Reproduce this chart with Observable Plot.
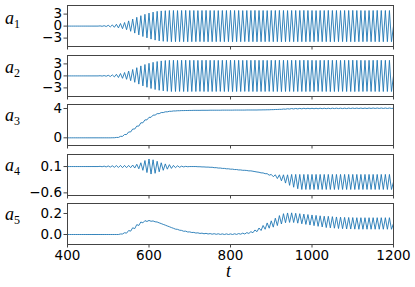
<!DOCTYPE html>
<html><head><meta charset="utf-8">
<script src="https://cdn.jsdelivr.net/npm/d3@7"></script>
<script src="https://cdn.jsdelivr.net/npm/@observablehq/plot@0.6"></script>
<style>
body{margin:0;background:#fff;}
#wrap{position:relative;width:415px;height:287px;overflow:hidden;}
#wrap svg{position:absolute;left:0;overflow:visible;}
.lab{position:absolute;font-family:"Liberation Serif",serif;font-style:italic;font-size:18px;line-height:18px;color:#000;white-space:nowrap;}
.lab sub{font-style:normal;font-size:12px;vertical-align:baseline;position:relative;top:4px;}
</style></head>
<body><div id="wrap"></div>
<script>
// time grid: one cycle every 10 time units from 400 (peak at t, trough at t+5)
const tStart = 400, tEnd = 1200, cycle = 10;
const xTicks = [400, 600, 800, 1000, 1200];
const seriesNames = ["a1", "a2", "a3", "a4", "a5"];

// a1: oscillation amplitude per cycle (centre 0)
const a1Amp = [
 0,0,0,0,0,0,0,0,0.05,0.1,
 0.2,0.3,0.45,0.65,0.9,1.3,1.75,2.2,2.6,2.95,
 3.25,3.5,3.7,3.8,3.85,3.9,3.9,3.88,3.9,3.92,
 3.9,3.9,3.88,3.9,3.92,3.9,3.9,3.88,3.9,3.9,
 3.92,3.9,3.9,3.88,3.9,3.9,3.92,3.9,3.9,3.88,
 3.9,3.9,3.92,3.9,3.88,3.9,3.9,3.9,3.92,3.9,
 3.9,3.88,3.9,3.9,3.92,3.9,3.9,3.88,3.9,3.9,
 3.92,3.9,3.9,3.88,3.9,3.9,3.92,3.9,3.9,3.9];
const a1Mid = new Array(80).fill(0);

// a2
const a2Amp = [
 0,0,0,0,0,0,0,0,0.04,0.08,
 0.15,0.25,0.4,0.6,0.85,1.2,1.6,2.05,2.5,2.85,
 3.15,3.4,3.6,3.75,3.85,3.9,3.9,3.88,3.9,3.92,
 3.9,3.9,3.88,3.9,3.92,3.9,3.9,3.88,3.9,3.9,
 3.92,3.9,3.9,3.88,3.9,3.9,3.92,3.9,3.9,3.88,
 3.9,3.9,3.92,3.9,3.88,3.9,3.9,3.9,3.92,3.9,
 3.9,3.88,3.9,3.9,3.92,3.9,3.9,3.88,3.9,3.9,
 3.92,3.9,3.9,3.88,3.9,3.9,3.92,3.9,3.9,3.9];
const a2Mid = new Array(80).fill(0);

// a3: smooth rise, tiny ripple late
const a3Mid = [
 0,0,0,0,0,0,0,0,0,0,
 0,0.01,0.05,0.2,0.45,0.8,1.2,1.6,2.05,2.45,
 2.8,3.1,3.3,3.45,3.55,3.62,3.67,3.7,3.72,3.73,
 3.74,3.75,3.75,3.76,3.76,3.77,3.77,3.77,3.78,3.78,
 3.78,3.79,3.79,3.79,3.8,3.8,3.8,3.81,3.82,3.83,
 3.85,3.87,3.89,3.92,3.95,3.97,3.98,3.99,4.0,4.0,
 4.0,4.0,4.01,4.01,4.01,4.02,4.02,4.02,4.02,4.03,
 4.03,4.03,4.03,4.03,4.04,4.04,4.04,4.04,4.04,4.04];
const a3Amp = [
 0,0,0,0,0,0,0,0,0,0,
 0,0,0,0,0,0,0,0,0,0,
 0,0,0,0,0,0,0,0,0,0,
 0,0,0,0,0,0,0,0,0,0,
 0,0,0,0,0,0,0,0,0,0,
 0,0,0,0.01,0.02,0.03,0.03,0.03,0.03,0.03,
 0.03,0.03,0.03,0.03,0.03,0.03,0.03,0.03,0.03,0.03,
 0.03,0.03,0.03,0.03,0.03,0.03,0.03,0.03,0.03,0.03];

// a4
const a4Mid = [
 0.1,0.1,0.1,0.1,0.1,0.1,0.1,0.1,0.1,0.1,
 0.1,0.1,0.1,0.1,0.1,0.1,0.1,0.1,0.1,0.1,
 0.1,0.1,0.1,0.1,0.1,0.1,0.1,0.1,0.1,0.1,
 0.1,0.1,0.095,0.09,0.085,0.08,0.07,0.06,0.05,0.04,
 0.03,0.02,0.01,0.0,-0.01,-0.02,-0.04,-0.06,-0.08,-0.11,
 -0.14,-0.17,-0.2,-0.23,-0.26,-0.28,-0.3,-0.31,-0.31,-0.31,
 -0.31,-0.31,-0.31,-0.31,-0.31,-0.31,-0.31,-0.31,-0.31,-0.31,
 -0.31,-0.31,-0.31,-0.31,-0.31,-0.31,-0.31,-0.31,-0.31,-0.31];
const a4Amp = [
 0,0,0,0,0,0,0,0,0.005,0.01,
 0.015,0.02,0.025,0.03,0.03,0.03,0.04,0.06,0.1,0.16,
 0.2,0.18,0.14,0.1,0.07,0.05,0.03,0.02,0.01,0.005,
 0,0,0,0,0,0,0,0,0,0,
 0,0,0,0,0.005,0.005,0.005,0.008,0.01,0.02,
 0.03,0.05,0.08,0.11,0.14,0.17,0.19,0.2,0.2,0.2,
 0.2,0.2,0.2,0.2,0.2,0.2,0.2,0.2,0.2,0.2,
 0.2,0.2,0.2,0.2,0.2,0.2,0.2,0.2,0.2,0.2];

// a5
const a5Mid = [
 0,0,0,0,0,0,0,0,0,0,
 0,0,0,0.005,0.015,0.035,0.06,0.09,0.115,0.128,
 0.13,0.125,0.115,0.1,0.085,0.07,0.055,0.045,0.035,0.028,
 0.022,0.017,0.013,0.01,0.008,0.006,0.005,0.004,0.003,0.003,
 0.003,0.004,0.006,0.009,0.014,0.022,0.035,0.05,0.068,0.085,
 0.1,0.12,0.14,0.155,0.16,0.16,0.155,0.15,0.145,0.14,
 0.135,0.13,0.125,0.12,0.118,0.115,0.112,0.11,0.108,0.107,
 0.106,0.105,0.105,0.105,0.105,0.105,0.105,0.105,0.105,0.105];
const a5Amp = [
 0,0,0,0,0,0,0,0,0,0,
 0,0,0,0,0.002,0.003,0.004,0.004,0.004,0.004,
 0.004,0.004,0.004,0.004,0.004,0.004,0.004,0.004,0.004,0.004,
 0.003,0.003,0.003,0.003,0.003,0.003,0.003,0.003,0.003,0.003,
 0.003,0.003,0.003,0.004,0.004,0.005,0.008,0.012,0.018,0.025,
 0.03,0.035,0.04,0.043,0.045,0.046,0.047,0.048,0.049,0.05,
 0.051,0.052,0.053,0.054,0.055,0.055,0.055,0.055,0.055,0.055,
 0.055,0.055,0.055,0.055,0.055,0.055,0.055,0.055,0.055,0.055];

// y-axis setup per panel
const yDomains = [[-5.1, 5.15], [-5.15, 5.1], [-1.05, 4.55], [-0.67, 0.42], [-0.095, 0.295]];
const yTicks = [[-3, 0, 3], [-3, 0, 3], [0, 4], [-0.6, 0.1], [0.0, 0.2]];
const yFormats = [
  d => (d < 0 ? "\u2212" : "") + Math.abs(d),
  d => (d < 0 ? "\u2212" : "") + Math.abs(d),
  d => String(d),
  d => (d < 0 ? "\u2212" : "") + Math.abs(d).toFixed(1),
  d => d.toFixed(1)];
const mids = [a1Mid, a2Mid, a3Mid, a4Mid, a5Mid];
const amps = [a1Amp, a2Amp, a3Amp, a4Amp, a5Amp];

// layout
const panelTops = [5, 55, 104, 153.5, 203];
const panelH = 41;
const labelTops = [9, 58, 106, 156, 205];

function buildRows(mid, amp) {
  const rows = [];
  for (let k = 0; k < mid.length; k++) {
    const t = tStart + k * cycle;
    rows.push({t, v: mid[k] + amp[k]});
    rows.push({t: t + cycle / 2, v: mid[k] - amp[k]});
  }
  rows.push({t: tEnd, v: mid[mid.length - 1]});
  return rows;
}

const wrap = document.getElementById("wrap");
seriesNames.forEach((name, i) => {
  const last = i === seriesNames.length - 1;
  const mt = 3, mb = last ? 24 : 6;
  const rows = buildRows(mids[i], amps[i]);
  const svg = Plot.plot({
    width: 415,
    height: panelH + mt + mb,
    marginTop: mt, marginBottom: mb, marginLeft: 67, marginRight: 22,
    style: {fontFamily: "DejaVu Sans, sans-serif", fontSize: "13.5px", color: "#000", background: "transparent"},
    x: {domain: [tStart, tEnd]},
    y: {domain: yDomains[i]},
    marks: [
      Plot.line(rows, {x: "t", y: "v", stroke: "#1f77b4", strokeWidth: 0.9, clip: true}),
      Plot.frame({stroke: "#444", strokeWidth: 1}),
      Plot.axisY({ticks: yTicks[i], tickFormat: yFormats[i], tickSize: 3.5, tickPadding: 2, label: null, stroke: "#444"}),
      last
        ? Plot.axisX({ticks: xTicks, tickFormat: d => String(d), tickSize: 3.5, tickPadding: 2.5, label: null, stroke: "#444"})
        : Plot.axisX({ticks: xTicks, tickFormat: () => "", tickSize: 3.5, label: null, stroke: "#444"})
    ]
  });
  svg.style.top = (panelTops[i] - mt) + "px";
  wrap.appendChild(svg);

  const lab = document.createElement("div");
  lab.className = "lab";
  lab.style.left = "5px";
  lab.style.top = labelTops[i] + "px";
  lab.innerHTML = "a<sub>" + (i + 1) + "</sub>";
  wrap.appendChild(lab);
});
const tl = document.createElement("div");
tl.className = "lab";
tl.style.left = "226px";
tl.style.top = "262px";
tl.textContent = "t";
wrap.appendChild(tl);
</script>
</body></html>
